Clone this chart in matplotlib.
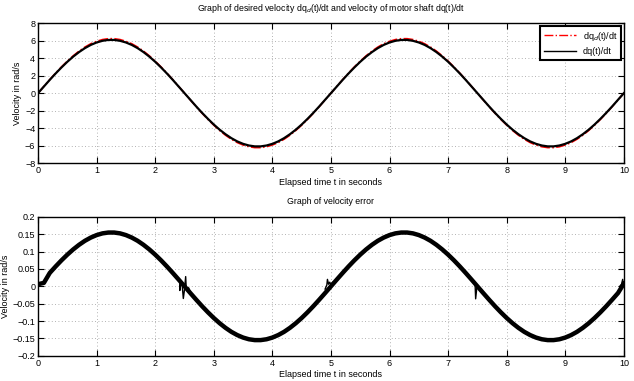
import matplotlib
matplotlib.use("Agg")
import matplotlib.pyplot as plt

plt.rcParams['font.family'] = ['Liberation Sans', 'DejaVu Sans']

# time samples (s), 0.1 s step
t = [round(0.1 * i, 1) for i in range(101)]

# desired velocity dq_d/dt (rad/s) (one period = 5 s)
half_d = [0, 0.78, 1.55, 2.30, 3.01, 3.67, 4.28, 4.82, 5.28, 5.66, 5.94, 6.14, 6.24,
          6.24, 6.14, 5.94, 5.66, 5.28, 4.82, 4.28, 3.67, 3.01, 2.30, 1.55, 0.78]
dqd = (half_d + [-v for v in half_d]) * 2 + [0]

# motor shaft velocity dq/dt (rad/s)
half_m = [0, 0.76, 1.52, 2.25, 2.94, 3.59, 4.18, 4.70, 5.15, 5.52, 5.80, 5.99, 6.09,
          6.09, 5.99, 5.80, 5.52, 5.15, 4.70, 4.18, 3.59, 2.94, 2.25, 1.52, 0.76]
dq = (half_m + [-v for v in half_m]) * 2 + [0]

# velocity error (rad/s)
half_e = [0.006, 0.010, 0.0385, 0.0571, 0.0747, 0.0911, 0.1061, 0.1194, 0.1309, 0.1402,
          0.1474, 0.1523, 0.1547, 0.1547, 0.1523, 0.1474, 0.1402, 0.1309, 0.1194, 0.1061,
          0.0911, 0.0747, 0.0571, 0.0385, 0.0194]
half_e2 = [0.0, -0.0194, -0.0385, -0.0571, -0.0747, -0.0911, -0.1061, -0.1194, -0.1309, -0.1402,
           -0.1474, -0.1523, -0.1547, -0.1547, -0.1523, -0.1474, -0.1402, -0.1309, -0.1194, -0.1061,
           -0.0911, -0.0747, -0.0571, -0.0385, -0.0194]
err = half_e + half_e2 + [0.0] + half_e[1:] + half_e2 + [0.008]
err[51] = 0.0194

# chatter spikes near the zero crossings
spk1_t = [2.40, 2.42, 2.42, 2.44, 2.46, 2.48, 2.50, 2.52, 2.53, 2.55, 2.57, 2.60]
spk1_v = [0.016, 0.018, -0.012, 0.012, 0.004, -0.035, -0.010, 0.028, -0.006, -0.012, -0.004, -0.016]
spk2_t = [4.90, 4.93, 4.94, 4.96, 4.98, 5.00, 5.03, 5.06]
spk2_v = [-0.008, 0.004, 0.020, 0.006, 0.012, 0.004, 0.012, 0.008]
spk3_t = [7.40, 7.44, 7.46, 7.47, 7.49, 7.52, 7.55]
spk3_v = [0.020, 0.014, 0.008, -0.036, -0.004, -0.006, -0.010]
spk4_t = [9.93, 9.96, 9.98, 9.99, 10.0]
spk4_v = [0.000, 0.006, 0.020, 0.004, 0.012]

fig = plt.figure(figsize=(6.34, 3.81), dpi=100)
ax1 = fig.add_axes([0.060, 0.572, 0.924, 0.367])
ax2 = fig.add_axes([0.060, 0.066, 0.924, 0.365])

ax1.plot(t, dqd, color='red', linestyle='-.', linewidth=1.1, label='dq$_d$(t)/dt')
ax1.plot(t, dq, color='black', linestyle='-', linewidth=1.6, label='dq(t)/dt')
ax1.set_xlim(0, 10)
ax1.set_ylim(-8, 8)
ax1.set_yticks(range(-8, 9, 2))
ax1.set_title('Graph of desired velocity dq$_d$(t)/dt and velocity of motor shaft dq(t)/dt',
              fontsize=6.3, pad=9)
ax1.set_xlabel('Elapsed time t in seconds', fontsize=6.5, labelpad=2)
ax1.set_ylabel('Velocity in rad/s', fontsize=6.5, labelpad=2)
leg = ax1.legend(loc='upper right', fontsize=6.5, fancybox=False, framealpha=1,
                 borderaxespad=0.3, handlelength=3.5)
leg.get_frame().set_edgecolor('black')
leg.get_frame().set_linewidth(1.5)
for ln in leg.get_lines():
    ln.set_linewidth(1.0)

ax2.plot(t, err, color='black', linewidth=3.2, solid_capstyle='butt')
for st, sv in [(spk1_t, spk1_v), (spk2_t, spk2_v), (spk3_t, spk3_v), (spk4_t, spk4_v)]:
    ax2.plot(st, sv, color='black', linewidth=1.0)
ax2.set_xlim(0, 10)
ax2.set_ylim(-0.2, 0.2)
ax2.set_yticks([-0.2, -0.15, -0.1, -0.05, 0, 0.05, 0.1, 0.15, 0.2])
ax2.set_yticklabels(['\u22120.2', '\u22120.15', '\u22120.1', '\u22120.05', '0', '0.05', '0.1', '0.15', '0.2'])
ax2.set_title('Graph of velocity error', fontsize=6.3, pad=9)
ax2.set_xlabel('Elapsed time t in seconds', fontsize=6.5, labelpad=2)
ax2.set_ylabel('Velocity in rad/s', fontsize=6.5, labelpad=2)

for ax in (ax1, ax2):
    ax.set_xticks(range(0, 11))
    ax.tick_params(direction='in', top=True, right=True, labelsize=6.5, length=4, width=0.8, pad=2)
    ax.grid(True, linestyle=(0, (1, 3)), color='#999999', linewidth=0.6)
    for s in ax.spines.values():
        s.set_linewidth(1.0)

fig.savefig('out.png', dpi=100)
